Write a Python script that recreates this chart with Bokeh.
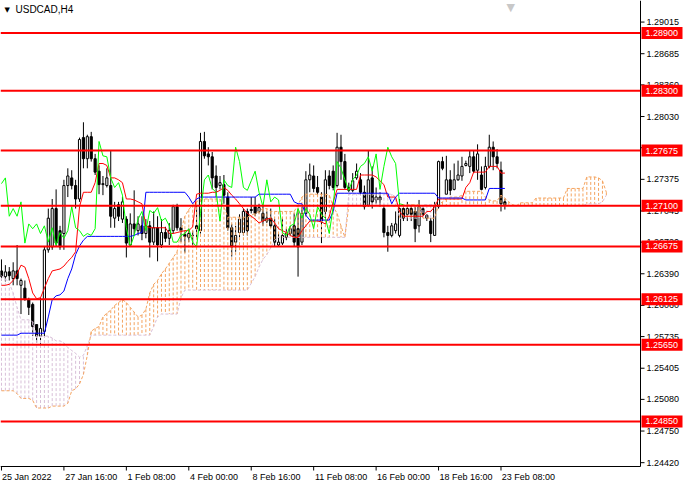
from bokeh.plotting import figure
from bokeh.models import Range1d, FixedTicker, Label
from bokeh.core.properties import value
from bokeh.embed import file_html
from bokeh.resources import INLINE

FONT = "Liberation Sans"

chart_title = "USDCAD,H4"
time_labels = ["25 Jan 2022", "27 Jan 16:00", "1 Feb 08:00", "4 Feb 00:00", "8 Feb 16:00",
               "11 Feb 08:00", "16 Feb 00:00", "18 Feb 16:00", "23 Feb 08:00"]
time_label_bars = [0, 16, 32, 48, 64, 80, 96, 112, 128]
price_ticks = [1.29015, 1.28685, 1.28360, 1.28030, 1.27705, 1.27375, 1.27045, 1.26720,
               1.26390, 1.26060, 1.25735, 1.25405, 1.25080, 1.24750, 1.24420]
levels = [1.28900, 1.28300, 1.27675, 1.27100, 1.26675, 1.26125, 1.25650, 1.24850]

opens = [1.2642, 1.2636, 1.2641, 1.2634, 1.2642, 1.2627, 1.2624, 1.2612, 1.2607, 1.2586,
         1.2574, 1.2579, 1.2664, 1.2667, 1.2707, 1.2684, 1.2681, 1.2731, 1.2739, 1.2731,
         1.2717, 1.2781, 1.2759, 1.2782, 1.2759, 1.2746, 1.2732, 1.2731, 1.2731, 1.2697,
         1.2711, 1.2696, 1.2696, 1.2669, 1.2691, 1.2684, 1.2689, 1.2681, 1.2689, 1.2672,
         1.2687, 1.2669, 1.2682, 1.2676, 1.2684, 1.2709, 1.2687, 1.2680, 1.2677, 1.2679,
         1.2689, 1.2684, 1.2777, 1.2764, 1.2761, 1.2741, 1.2731, 1.2732, 1.2719, 1.2687,
         1.2672, 1.2682, 1.2682, 1.2704, 1.2706, 1.2709, 1.2704, 1.2702, 1.2694, 1.2697,
         1.2689, 1.2669, 1.2671, 1.2677, 1.2681, 1.2689, 1.2686, 1.2672, 1.2702, 1.2737,
         1.2741, 1.2729, 1.2719, 1.2704, 1.2741, 1.2746, 1.2731, 1.2771, 1.2756, 1.2729,
         1.2726, 1.2739, 1.2737, 1.2724, 1.2711, 1.2739, 1.2716, 1.2719, 1.2707, 1.2682,
         1.2679, 1.2684, 1.2679, 1.2707, 1.2701, 1.2707, 1.2704, 1.2689, 1.2707, 1.2700,
         1.2694, 1.2679, 1.2709, 1.2756, 1.2722, 1.2737, 1.2727, 1.2737, 1.2741, 1.2752,
         1.2751, 1.2761, 1.2747, 1.2742, 1.2729, 1.2751, 1.2771, 1.2761, 1.2747, 1.2714]
closes = [1.2636, 1.2641, 1.2637, 1.2642, 1.2634, 1.2632, 1.2612, 1.2604, 1.2584, 1.2574,
          1.2582, 1.2664, 1.2697, 1.2707, 1.2671, 1.2667, 1.2731, 1.2741, 1.2731, 1.2717,
          1.2779, 1.2759, 1.2782, 1.2759, 1.2745, 1.2732, 1.2733, 1.2739, 1.2699, 1.2707,
          1.2699, 1.2714, 1.2671, 1.2691, 1.2686, 1.2691, 1.2681, 1.2689, 1.2672, 1.2687,
          1.2669, 1.2682, 1.2676, 1.2684, 1.2709, 1.2687, 1.2684, 1.2678, 1.2681, 1.2679,
          1.2686, 1.2777, 1.2762, 1.2761, 1.2739, 1.2729, 1.2734, 1.2721, 1.2687, 1.2667,
          1.2679, 1.2696, 1.2704, 1.2684, 1.2705, 1.2702, 1.2708, 1.2694, 1.2697, 1.2689,
          1.2672, 1.2672, 1.2679, 1.2681, 1.2686, 1.2672, 1.2667, 1.2702, 1.2737, 1.2742,
          1.2728, 1.2724, 1.2694, 1.2737, 1.2731, 1.2729, 1.2771, 1.2756, 1.2729, 1.2726,
          1.2736, 1.2746, 1.2724, 1.2709, 1.2737, 1.2714, 1.2719, 1.2716, 1.2682, 1.2679,
          1.2689, 1.2691, 1.2707, 1.2697, 1.2707, 1.2701, 1.2686, 1.2709, 1.2701, 1.2697,
          1.2681, 1.2709, 1.2756, 1.2749, 1.2737, 1.2726, 1.2737, 1.2742, 1.2751, 1.2754,
          1.2761, 1.2746, 1.2764, 1.2727, 1.2751, 1.2771, 1.2761, 1.2754, 1.2712, 1.2711]
highs = [1.2654, 1.2648, 1.2646, 1.2651, 1.2669, 1.2634, 1.2632, 1.2614, 1.2609, 1.2586,
         1.2614, 1.2667, 1.2707, 1.2717, 1.2727, 1.2689, 1.2737, 1.2749, 1.2747, 1.2737,
         1.2781, 1.2797, 1.2784, 1.2787, 1.2764, 1.2752, 1.2741, 1.2749, 1.2767, 1.2714,
         1.2714, 1.2719, 1.2699, 1.2702, 1.2726, 1.2699, 1.2699, 1.2696, 1.2694, 1.2704,
         1.2699, 1.2696, 1.2688, 1.2692, 1.2711, 1.2712, 1.2697, 1.2684, 1.2686, 1.2684,
         1.2711, 1.2786, 1.2787, 1.2771, 1.2766, 1.2752, 1.2741, 1.2742, 1.2724, 1.2691,
         1.2689, 1.2701, 1.2707, 1.2707, 1.2719, 1.2719, 1.2712, 1.2711, 1.2704, 1.2707,
         1.2696, 1.2681, 1.2697, 1.2686, 1.2689, 1.2702, 1.2707, 1.2709, 1.2746, 1.2754,
         1.2752, 1.2741, 1.2724, 1.2747, 1.2747, 1.2752, 1.2786, 1.2784, 1.2764, 1.2734,
         1.2744, 1.2754, 1.2744, 1.2731, 1.2767, 1.2751, 1.2729, 1.2724, 1.2711, 1.2689,
         1.2692, 1.2704, 1.2717, 1.2709, 1.2714, 1.2711, 1.2709, 1.2716, 1.2709, 1.2701,
         1.2697, 1.2714, 1.2757, 1.2761, 1.2762, 1.2747, 1.2754, 1.2757, 1.2761, 1.2757,
         1.2767, 1.2767, 1.2774, 1.2751, 1.2761, 1.2784, 1.2777, 1.2769, 1.2756, 1.2717]
lows = [1.2632, 1.2631, 1.2632, 1.2627, 1.2627, 1.2597, 1.2611, 1.2596, 1.2574, 1.2567,
        1.2566, 1.2574, 1.2661, 1.2664, 1.2667, 1.2664, 1.2664, 1.2719, 1.2727, 1.2707,
        1.2714, 1.2749, 1.2749, 1.2756, 1.2742, 1.2722, 1.2721, 1.2729, 1.2687, 1.2687,
        1.2694, 1.2692, 1.2656, 1.2667, 1.2679, 1.2679, 1.2674, 1.2676, 1.2656, 1.2669,
        1.2652, 1.2666, 1.2672, 1.2669, 1.2681, 1.2684, 1.2672, 1.2661, 1.2672, 1.2669,
        1.2677, 1.2681, 1.2759, 1.2752, 1.2727, 1.2719, 1.2727, 1.2712, 1.2684, 1.2657,
        1.2662, 1.2677, 1.2679, 1.2679, 1.2702, 1.2699, 1.2702, 1.2689, 1.2692, 1.2687,
        1.2667, 1.2667, 1.2669, 1.2674, 1.2679, 1.2667, 1.2636, 1.2669, 1.2699, 1.2724,
        1.2724, 1.2721, 1.2671, 1.2697, 1.2727, 1.2726, 1.2729, 1.2737, 1.2727, 1.2724,
        1.2724, 1.2737, 1.2721, 1.2706, 1.2709, 1.2707, 1.2712, 1.2709, 1.2677, 1.2662,
        1.2677, 1.2681, 1.2677, 1.2694, 1.2694, 1.2694, 1.2672, 1.2682, 1.2699, 1.2694,
        1.2672, 1.2679, 1.2707, 1.2747, 1.2722, 1.2721, 1.2726, 1.2736, 1.2736, 1.2751,
        1.2744, 1.2744, 1.2737, 1.2726, 1.2727, 1.2749, 1.2747, 1.2749, 1.2704, 1.2706]

tenkan = [1.2627, 1.2627, 1.2628, 1.2632, 1.2639, 1.2648, 1.2646, 1.2634, 1.2619, 1.2613,
          1.2614, 1.2624, 1.2634, 1.2642, 1.2643, 1.2644, 1.2647, 1.2652, 1.2656, 1.2662,
          1.2709, 1.2724, 1.2724, 1.2724, 1.2734, 1.2754, 1.2754, 1.2752, 1.2739, 1.2739,
          1.2737, 1.2734, 1.2717, 1.2717, 1.2716, 1.2714, 1.2712, 1.2689, 1.2687, 1.2687,
          1.2687, 1.2687, 1.2687, 1.2681, 1.2681, 1.2682, 1.2683, 1.2684, 1.2684, 1.2688,
          1.2722, 1.2723, 1.2723, 1.2723, 1.2724, 1.2724, 1.2726, 1.2729, 1.2726, 1.2721,
          1.2717, 1.2712, 1.2707, 1.2702, 1.2699, 1.2696, 1.2692, 1.2694, 1.2696, 1.2697,
          1.2692, 1.2686, 1.2684, 1.2682, 1.2679, 1.2677, 1.2677, 1.2684, 1.2689, 1.2694,
          1.2694, 1.2694, 1.2693, 1.2691, 1.2699, 1.2714, 1.2727, 1.2727, 1.2727, 1.2727,
          1.2727, 1.2727, 1.2742, 1.2742, 1.2742, 1.2742, 1.2740, 1.2736, 1.2732, 1.2719,
          1.2719, 1.2719, 1.2704, 1.2699, 1.2699, 1.2699, 1.2699, 1.2699, 1.2699, 1.2704,
          1.2704, 1.2709, 1.2717, 1.2717, 1.2717, 1.2717, 1.2717, 1.2717, 1.2717, 1.2729,
          1.2734, 1.2745, 1.2745, 1.2745, 1.2745, 1.2751, 1.2751, 1.2751, 1.2744, 1.2744]
kijun = [1.2575, 1.2575, 1.2575, 1.2575, 1.2575, 1.2577, 1.2577, 1.2577, 1.2577, 1.2577,
         1.2577, 1.2577, 1.2594, 1.2612, 1.2616, 1.2617, 1.2621, 1.2634, 1.2644, 1.2659,
         1.2668, 1.2674, 1.2678, 1.2678, 1.2678, 1.2678, 1.2678, 1.2678, 1.2678, 1.2678,
         1.2678, 1.2678, 1.2678, 1.2678, 1.2679, 1.2681, 1.2682, 1.2724, 1.2724, 1.2724,
         1.2724, 1.2724, 1.2724, 1.2724, 1.2724, 1.2724, 1.2724, 1.2724, 1.2719, 1.2712,
         1.2717, 1.2719, 1.2719, 1.2719, 1.2719, 1.2719, 1.2719, 1.2719, 1.2719, 1.2719,
         1.2719, 1.2719, 1.2719, 1.2719, 1.2719, 1.2719, 1.2722, 1.2722, 1.2722, 1.2722,
         1.2722, 1.2722, 1.2722, 1.2722, 1.2722, 1.2714, 1.2712, 1.2712, 1.2700, 1.2695,
         1.2695, 1.2695, 1.2695, 1.2695, 1.2695, 1.2704, 1.2723, 1.2723, 1.2723, 1.2723,
         1.2723, 1.2723, 1.2723, 1.2723, 1.2723, 1.2723, 1.2723, 1.2723, 1.2723, 1.2723,
         1.2712, 1.2719, 1.2723, 1.2723, 1.2723, 1.2723, 1.2723, 1.2723, 1.2723, 1.2723,
         1.2723, 1.2723, 1.2718, 1.2718, 1.2718, 1.2718, 1.2718, 1.2718, 1.2718, 1.2716,
         1.2716, 1.2716, 1.2716, 1.2716, 1.2716, 1.2728, 1.2728, 1.2728, 1.2728, 1.2728]
senkou_a = [1.2517, 1.2517, 1.2517, 1.2517, 1.2514, 1.2509, 1.2509, 1.2509, 1.2507, 1.2499,
            1.2499, 1.2499, 1.2499, 1.2501, 1.2501, 1.2501, 1.2501, 1.2504, 1.2517, 1.2519,
            1.2524, 1.2534, 1.2554, 1.2579, 1.2582, 1.2584, 1.2594, 1.2598, 1.2601, 1.2606,
            1.2609, 1.2612, 1.2609, 1.2604, 1.2599, 1.2594, 1.2596, 1.2602, 1.2619, 1.2628,
            1.2632, 1.2639, 1.2644, 1.2650, 1.2656, 1.2662, 1.2684, 1.2699, 1.2706, 1.2711,
            1.2714, 1.2717, 1.2717, 1.2717, 1.2717, 1.2717, 1.2717, 1.2709, 1.2698, 1.2698,
            1.2698, 1.2698, 1.2698, 1.2698, 1.2700, 1.2702, 1.2704, 1.2707, 1.2707, 1.2704,
            1.2704, 1.2704, 1.2704, 1.2704, 1.2704, 1.2704, 1.2711, 1.2719, 1.2722, 1.2722,
            1.2722, 1.2722, 1.2722, 1.2722, 1.2721, 1.2709, 1.2702, 1.2689, 1.2677, 1.2710,
            1.2710, 1.2710, 1.2710, 1.2710, 1.2710, 1.2710, 1.2710, 1.2710, 1.2710, 1.2710,
            1.2710, 1.2709, 1.2711, 1.2711, 1.2711, 1.2711, 1.2711, 1.2711, 1.2697, 1.2697,
            1.2697, 1.2697, 1.2711, 1.2714, 1.2717, 1.2719, 1.2719, 1.2719, 1.2721, 1.2725,
            1.2725, 1.2725, 1.2725, 1.2725, 1.2719, 1.2716, 1.2715, 1.2715, 1.2721, 1.2718,
            1.2714, 1.2711, 1.2710, 1.2713, 1.2713, 1.2713, 1.2713, 1.2718, 1.2718, 1.2718,
            1.2718, 1.2718, 1.2718, 1.2718, 1.2718, 1.2728, 1.2728, 1.2728, 1.2728, 1.2728,
            1.2740, 1.2740, 1.2740, 1.2739, 1.2736, 1.2724]
senkou_b = [1.2637, 1.2634, 1.2629, 1.2619, 1.2604, 1.2591, 1.2591, 1.2591, 1.2589, 1.2574,
            1.2574, 1.2574, 1.2574, 1.2572, 1.2569, 1.2569, 1.2567, 1.2562, 1.2559, 1.2556,
            1.2552, 1.2554, 1.2564, 1.2575, 1.2575, 1.2575, 1.2575, 1.2575, 1.2575, 1.2575,
            1.2575, 1.2575, 1.2575, 1.2575, 1.2575, 1.2575, 1.2575, 1.2575, 1.2575, 1.2584,
            1.2594, 1.2597, 1.2597, 1.2597, 1.2597, 1.2597, 1.2614, 1.2622, 1.2622, 1.2622,
            1.2622, 1.2622, 1.2622, 1.2622, 1.2622, 1.2622, 1.2622, 1.2622, 1.2622, 1.2622,
            1.2622, 1.2622, 1.2622, 1.2622, 1.2629, 1.2636, 1.2646, 1.2654, 1.2659, 1.2666,
            1.2674, 1.2677, 1.2677, 1.2677, 1.2677, 1.2677, 1.2677, 1.2677, 1.2677, 1.2677,
            1.2677, 1.2677, 1.2677, 1.2677, 1.2677, 1.2677, 1.2677, 1.2677, 1.2677, 1.2722,
            1.2722, 1.2722, 1.2722, 1.2722, 1.2722, 1.2722, 1.2722, 1.2722, 1.2722, 1.2722,
            1.2722, 1.2719, 1.2697, 1.2697, 1.2697, 1.2697, 1.2697, 1.2697, 1.2711, 1.2711,
            1.2711, 1.2711, 1.2710, 1.2710, 1.2710, 1.2710, 1.2710, 1.2710, 1.2710, 1.2710,
            1.2710, 1.2710, 1.2710, 1.2710, 1.2710, 1.2710, 1.2710, 1.2710, 1.2710, 1.2710,
            1.2710, 1.2710, 1.2710, 1.2710, 1.2710, 1.2710, 1.2710, 1.2710, 1.2710, 1.2710,
            1.2710, 1.2710, 1.2710, 1.2710, 1.2710, 1.2710, 1.2710, 1.2710, 1.2710, 1.2710,
            1.2712, 1.2712, 1.2712, 1.2712, 1.2714, 1.2721]

LAG = 26  # chikou span: close plotted 26 bars back

W, H = 684, 484
CHART_PX = 640          # width of the candle area; the price scale sits to its right
VISIBLE_BARS = 164
ppb = CHART_PX / VISIBLE_BARS
X0 = -0.25
XA = X0 + VISIBLE_BARS          # price-scale line
X1 = X0 + W / ppb
Y0, Y1 = 1.2438, 1.2924         # bottom (time-axis line) and top of the chart
AXIS_LABEL_PX = 12              # height taken by the time labels under the frame
TICK_PX = 5
ppx = (Y1 - Y0) / (H - AXIS_LABEL_PX - TICK_PX)
YB = Y0 - TICK_PX * ppx         # frame bottom, leaves room for the time tick marks

p = figure(width=W, height=H, x_range=Range1d(X0, X1), y_range=Range1d(YB, Y1),
           output_backend="svg", toolbar_location=None,
           y_axis_location=None, x_axis_location="below",
           min_border_left=0, min_border_top=0, min_border_right=0, min_border_bottom=0)
p.grid.visible = False
p.outline_line_color = None
p.background_fill_color = "white"
p.border_fill_color = "white"

# time axis labels, each starting at its tick mark
lab_pos = [b + (len(s) * 4.4 / 2 + 1) / ppb for b, s in zip(time_label_bars, time_labels)]
xa = p.xaxis[0]
xa.ticker = FixedTicker(ticks=lab_pos)
xa.major_label_overrides = {v: s for v, s in zip(lab_pos, time_labels)}
xa.major_tick_in = 0
xa.major_tick_out = 0
xa.major_tick_line_color = None
xa.minor_tick_line_color = None
xa.axis_line_color = None
xa.major_label_standoff = 0
xa.major_label_text_font = FONT
xa.major_label_text_font_size = "9px"
xa.major_label_text_color = "black"

n = len(opens)
idx = list(range(n))
tops = [max(o, c) for o, c in zip(opens, closes)]
bots = [min(o, c) for o, c in zip(opens, closes)]
fills = ["white" if c >= o else "black" for o, c in zip(opens, closes)]

# candles
p.segment(x0=idx, y0=lows, x1=idx, y1=highs, line_color="black", line_width=1)
p.vbar(x=idx, width=0.55, top=tops, bottom=bots, fill_color=fills, line_color="black", line_width=1)

# kumo histogram (dotted verticals)
cx, ca, cb, cc = [], [], [], []
for i, (a, b) in enumerate(zip(senkou_a, senkou_b)):
    if a != b:
        cx.append(i); ca.append(a); cb.append(b)
        cc.append("#F4A460" if a > b else "#D8BFD8")
p.segment(x0=cx, y0=ca, x1=cx, y1=cb, line_color=cc, line_dash="3 2", line_width=1)
kx = list(range(len(senkou_a)))
p.line(kx, senkou_b, line_color="#D8BFD8", line_dash="3 2", line_width=1)
p.line(kx, senkou_a, line_color="#F4A460", line_dash="3 2", line_width=1)

# tenkan, kijun, chikou
p.line(idx, tenkan, line_color="#FF0000", line_width=1)
p.line(idx, kijun, line_color="#0000FF", line_width=1)
chikou = closes[LAG:]
p.line(list(range(len(chikou))), chikou, line_color="#00FF00", line_width=1)

# horizontal levels (stop at the price scale)
nl = len(levels)
p.segment(x0=[X0] * nl, x1=[XA] * nl, y0=levels, y1=levels, line_color="#FF0000", line_width=2)

# time axis line and tick marks
nb = len(time_label_bars)
p.segment(x0=[X0], x1=[XA], y0=[Y0], y1=[Y0], line_color="black", line_width=1)
p.segment(x0=time_label_bars, x1=time_label_bars, y0=[Y0] * nb, y1=[Y0 - 4 * ppx] * nb,
          line_color="black", line_width=1)

# price scale on the right
p.segment(x0=[XA], x1=[XA], y0=[Y0], y1=[Y1], line_color="black", line_width=1)
nt = len(price_ticks)
p.segment(x0=[XA] * nt, x1=[XA + 4 / ppb] * nt, y0=price_ticks, y1=price_ticks,
          line_color="black", line_width=1)
p.text(x=[XA + 6 / ppb] * nt, y=price_ticks, text=[f"{t:.5f}" for t in price_ticks],
       text_font=value(FONT), text_font_size=value("9px"), text_color="black",
       text_baseline="middle", text_align="left")
p.rect(x=[XA + 21.5 / ppb] * nl, y=levels, width=41, height=12,
       width_units="screen", height_units="screen", fill_color="#FF0000", line_color=None)
p.text(x=[XA + 5 / ppb] * nl, y=levels, text=[f"{lv:.5f}" for lv in levels],
       text_font=value(FONT), text_font_size=value("9px"), text_color="white",
       text_baseline="middle", text_align="left")

# title
p.add_layout(Label(x=X0, y=Y1, x_offset=4, y_offset=-9, text="\u25bc", text_font="DejaVu Sans",
                   text_font_size="7px", text_baseline="middle", text_color="black"))
p.add_layout(Label(x=X0, y=Y1, x_offset=15, y_offset=-9, text=chart_title, text_font=FONT,
                   text_font_size="10px", text_baseline="middle", text_color="black"))
# chart shift marker
p.add_layout(Label(x=n + 0.5, y=Y1, x_offset=0, y_offset=0, text="\u25bc", text_font="DejaVu Sans",
                   text_font_size="11px", text_baseline="top", text_align="center",
                   text_color="#C8C8C8"))

open("out.html", "w").write(file_html(p, INLINE))
